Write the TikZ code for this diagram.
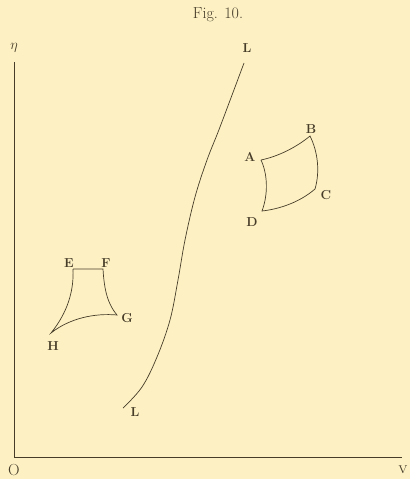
\documentclass[tikz,border=0pt]{standalone}
\usetikzlibrary{calc}
\definecolor{paper}{RGB}{253,241,196}
\definecolor{ink}{RGB}{70,60,40}
\begin{document}
\begin{tikzpicture}[x=1pt,y=-1pt,
  lbl/.style={font=\bfseries\fontsize{13}{13}\selectfont, text=ink, inner sep=0pt},
  ln/.style={draw=ink, line width=0.7pt}]
\fill[paper] (0,0) rectangle (410,479);
\useasboundingbox (0,0) rectangle (410,479);
% title
\node[text=ink, font=\fontsize{16}{16}\selectfont, inner sep=0pt] (title) at (218,15) {Fig. 10.};
% axes
\coordinate (O) at (14,457);
\coordinate (ytop) at (14,62);
\coordinate (xend) at (402,457);
\draw[ln, line width=0.9pt] (ytop) -- (O) -- (xend);
\node[text=ink, inner sep=0pt, font=\fontsize{14}{14}\selectfont] (eta) at (14,48) {$\eta$};
\node[text=ink, inner sep=0pt, font=\fontsize{16}{16}\selectfont] (Olab) at (14,470) {O};
\node[text=ink, inner sep=0pt, font=\fontsize{15}{15}\selectfont\scshape] (vlab) at (403,470) {v};
% curve L
\draw[ln] plot[smooth, tension=0.6] coordinates {(244,63) (220,127) (207,160) (195,197) (185,240) (178,280) (170,320) (157,357) (142,387) (123,408)};
\node[lbl] (Ltop) at (247,48) {L};
\node[lbl] (Lbot) at (135,412) {L};
% ABCD
\coordinate (a) at (261,160);
\coordinate (b) at (310,136);
\coordinate (c) at (315,189);
\coordinate (d) at (262,211);
\draw[ln] (a) .. controls (280,156) and (298,146) .. (b)
  .. controls (318,152) and (320,172) .. (c)
  .. controls (300,202) and (280,209) .. (d)
  .. controls (268,195) and (268,175) .. (a);
\node[lbl] (A) at (250,157) {A};
\node[lbl] (B) at (311,129) {B};
\node[lbl] (C) at (326,195) {C};
\node[lbl] (D) at (252,222) {D};
% EFGH
\coordinate (e) at (73,269);
\coordinate (f) at (103,269);
\coordinate (g) at (117,315);
\coordinate (h) at (51,333);
\draw[ln] (e) -- (f)
  .. controls (104,285) and (106,302) .. (g)
  .. controls (95,313) and (70,318) .. (h)
  .. controls (68,312) and (74,290) .. (e);
\node[lbl] (E) at (69,263) {E};
\node[lbl] (F) at (106,263) {F};
\node[lbl] (G) at (127,318) {G};
\node[lbl] (H) at (53,346) {H};
\end{tikzpicture}
\end{document}
